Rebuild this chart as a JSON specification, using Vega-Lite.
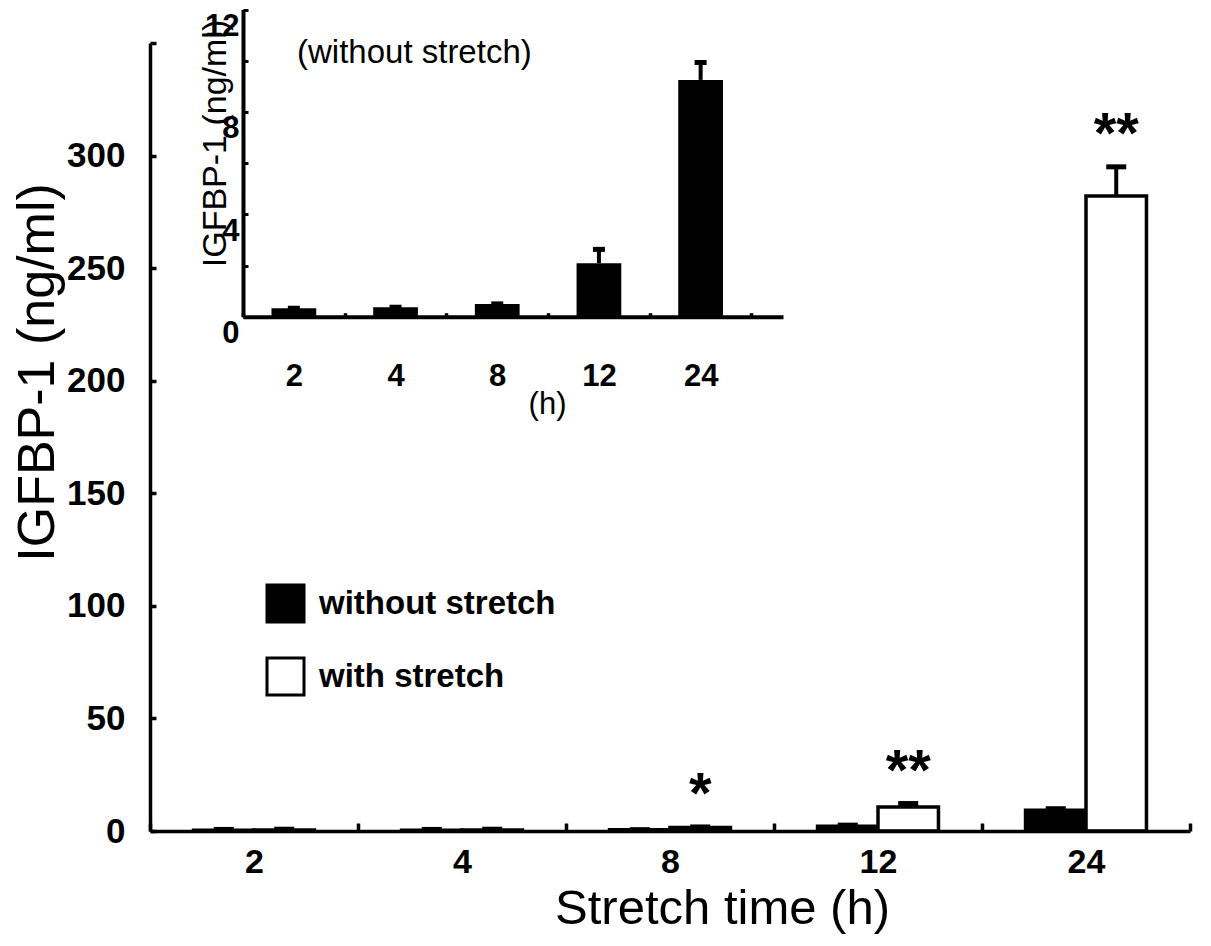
{
  "$schema": "https://vega.github.io/schema/vega-lite/v6.json",
  "width": 1040,
  "height": 788,
  "autosize": {"type": "none"},
  "padding": {"left": 150, "top": 43, "right": 21, "bottom": 115},
  "background": "white",
  "title": {"text": "(without stretch)", "anchor": "start", "frame": "group", "orient": "top", "offset": 0, "dx": 147, "dy": 61, "fontSize": 33, "fontWeight": "normal", "font": "Liberation Sans", "color": "black"},
  "config": {
    "view": {"stroke": null},
    "font": "Liberation Sans",
    "axis": {"grid": false, "domainColor": "black", "tickColor": "black", "labelColor": "black", "titleColor": "black", "labelFont": "Liberation Sans", "titleFont": "Liberation Sans"},
    "text": {"font": "Liberation Sans", "color": "black"}
  },
  "datasets": {
    "main": [
      {"time": "2", "cond": "without stretch", "mean": 0.33, "upper": 0.7, "sig": ""},
      {"time": "2", "cond": "with stretch", "mean": 0.45, "upper": 0.8, "sig": ""},
      {"time": "4", "cond": "without stretch", "mean": 0.37, "upper": 0.7, "sig": ""},
      {"time": "4", "cond": "with stretch", "mean": 0.45, "upper": 0.8, "sig": ""},
      {"time": "8", "cond": "without stretch", "mean": 0.5, "upper": 0.6, "sig": ""},
      {"time": "8", "cond": "with stretch", "mean": 1.6, "upper": 1.8, "sig": "*"},
      {"time": "12", "cond": "without stretch", "mean": 2.1, "upper": 2.6, "sig": ""},
      {"time": "12", "cond": "with stretch", "mean": 10.7, "upper": 12.2, "sig": "**"},
      {"time": "24", "cond": "without stretch", "mean": 9.25, "upper": 9.9, "sig": ""},
      {"time": "24", "cond": "with stretch", "mean": 282, "upper": 295, "sig": "**"}
    ],
    "inset": [
      {"time": "2", "mean": 0.33, "upper": 0.33},
      {"time": "4", "mean": 0.37, "upper": 0.37},
      {"time": "8", "mean": 0.5, "upper": 0.5},
      {"time": "12", "mean": 2.09, "upper": 2.63},
      {"time": "24", "mean": 9.25, "upper": 9.93}
    ]
  },
  "layer": [
    {
      "data": {"name": "main"},
      "encoding": {
        "x": {
          "field": "time", "type": "ordinal",
          "scale": {"domain": ["2", "4", "8", "12", "24"], "paddingInner": 0, "paddingOuter": 0},
          "axis": {"orient": "bottom", "zindex": 1, "title": "Stretch time (h)", "labelAngle": 0, "tickBand": "extent", "tickSize": -8, "tickWidth": 3.5, "domainWidth": 3.5, "labelFontSize": 34, "labelFontWeight": "bold", "labelPadding": 22, "titleFontSize": 49, "titleFontWeight": "normal", "titleX": 572, "titleY": 77, "titleBaseline": "middle", "titleAlign": "center"}
        },
        "xOffset": {
          "field": "cond", "type": "nominal",
          "scale": {"domain": ["without stretch", "with stretch"], "paddingInner": 0, "paddingOuter": 0.72}
        },
        "y": {
          "field": "mean", "type": "quantitative",
          "scale": {"domain": [0, 350], "nice": false},
          "axis": {"orient": "left", "zindex": 1, "values": [0, 50, 100, 150, 200, 250, 300, 350], "labelExpr": "datum.value == 350 ? '' : datum.label", "title": "IGFBP-1 (ng/ml)", "tickSize": -6, "tickWidth": 3.5, "domainWidth": 3.5, "labelFontSize": 35, "labelFontWeight": "bold", "labelPadding": 31, "titleFontSize": 52, "titleFontWeight": "normal", "titleX": -113, "titleY": 329, "titleBaseline": "middle", "titleAlign": "center", "titleAngle": -90}
        }
      },
      "layer": [
        {
          "mark": {"type": "bar", "stroke": "black", "strokeWidth": 3.5},
          "encoding": {
            "fill": {
              "field": "cond", "type": "nominal",
              "scale": {"domain": ["without stretch", "with stretch"], "range": ["black", "white"]},
              "legend": {"title": null, "orient": "none", "legendX": 115, "legendY": 540, "symbolType": "square", "symbolSize": 1370, "symbolStrokeColor": "black", "symbolStrokeWidth": 3, "labelFont": "Liberation Sans", "labelFontSize": 33, "labelFontWeight": "bold", "labelColor": "black", "labelOffset": 13, "labelLimit": 500, "rowPadding": 22, "padding": 0}
            }
          }
        },
        {"mark": {"type": "rule", "strokeWidth": 4, "color": "black"}, "encoding": {"y2": {"field": "upper"}}},
        {"mark": {"type": "tick", "color": "black", "opacity": 1, "size": 20, "thickness": 5}, "encoding": {"y": {"field": "upper", "type": "quantitative"}}},
        {"mark": {"type": "text", "fontSize": 58, "fontWeight": "bold", "baseline": "alphabetic", "dy": -14}, "encoding": {"y": {"field": "upper", "type": "quantitative"}, "text": {"field": "sig"}}}
      ]
    },
    {
      "data": {"name": "inset"},
      "encoding": {
        "x": {
          "field": "time", "type": "ordinal",
          "scale": {"domain": ["2", "4", "8", "12", "24"], "range": [93, 633], "paddingInner": 0, "paddingOuter": 0.155, "align": 0},
          "axis": {"orient": "bottom", "offset": -514.3, "title": "(h)", "labelAngle": 0, "tickBand": "extent", "tickSize": -4, "tickWidth": 3.5, "domainWidth": 4, "labelFontSize": 31, "labelFontWeight": "bold", "labelPadding": 49, "titleFontSize": 31, "titleFontWeight": "normal", "titleX": 397, "titleY": 88, "titleBaseline": "middle", "titleAlign": "center"}
        },
        "y": {
          "field": "mean", "type": "quantitative",
          "scale": {"domain": [0, 12], "nice": false, "range": [273.7, -33.5]},
          "axis": {"orient": "left", "offset": -93, "values": [0, 2, 4, 6, 8, 10, 12], "labelExpr": "datum.value % 4 == 0 ? datum.label : ''", "title": "IGFBP-1 (ng/ml)", "tickSize": -5, "tickWidth": 3, "domainWidth": 4, "labelFontSize": 31, "labelFontWeight": "bold", "labelPadding": 9, "labelOffset": 17, "titleFontSize": 34, "titleFontWeight": "normal", "titleX": -28, "titleY": 100, "titleBaseline": "middle", "titleAlign": "center", "titleAngle": -90}
        }
      },
      "layer": [
        {"mark": {"type": "bar", "color": "black", "width": {"band": 0.44}}},
        {"mark": {"type": "rule", "strokeWidth": 4, "color": "black"}, "encoding": {"y2": {"field": "upper"}}},
        {"mark": {"type": "tick", "color": "black", "opacity": 1, "size": 12, "thickness": 5}, "encoding": {"y": {"field": "upper", "type": "quantitative"}}}
      ]
    }
  ],
  "resolve": {"scale": {"x": "independent", "y": "independent", "xOffset": "independent"}, "axis": {"x": "independent", "y": "independent"}}
}
